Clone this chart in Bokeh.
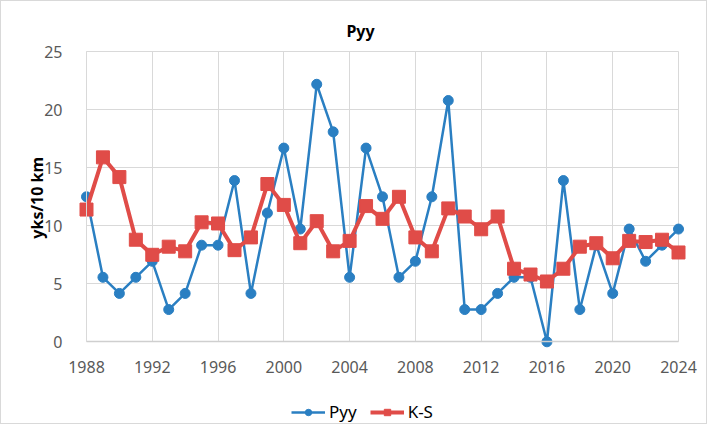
from bokeh.plotting import figure
from bokeh.models import Range1d, FixedTicker, Legend, LegendItem, Label
from bokeh.embed import file_html
from bokeh.resources import INLINE
import math

years = list(range(1988, 2025))
pyy = [12.5, 5.56, 4.17, 5.56, 6.94, 2.78, 4.17, 8.33, 8.33, 13.9,
       4.17, 11.1, 16.7, 9.72, 22.2, 18.1, 5.56, 16.7, 12.5, 5.56,
       6.94, 12.5, 20.8, 2.78, 2.78, 4.17, 5.56, 5.56, 0.0, 13.9,
       2.78, 8.33, 4.17, 9.72, 6.94, 8.33, 9.72]
ks = [11.4, 15.9, 14.2, 8.8, 7.5, 8.2, 7.8, 10.3, 10.2, 7.9,
      9.0, 13.6, 11.8, 8.5, 10.4, 7.8, 8.7, 11.7, 10.6, 12.5,
      9.0, 7.8, 11.5, 10.8, 9.7, 10.8, 6.3, 5.8, 5.2, 6.3,
      8.2, 8.5, 7.2, 8.7, 8.6, 8.8, 7.7]
x_ticks = list(range(1988, 2025, 4))
y_ticks = [0, 5, 10, 15, 20, 25]
title_text = "Pyy"
y_title = "yks/10 km"

BLUE = "#2A7FC2"
RED = "#E04C48"
FONT = "Noto Sans"

# layout: figure size and where the plot box should sit (pixels)
W, H = 707, 424
X0, X1 = 1988, 2024
Y0, Y1 = 0, 25
PX_LEFT, PX_RIGHT = 85.0, 677.0
PX_TOP, PX_BOTTOM = 50.3, 340.3
sx = (PX_RIGHT - PX_LEFT) / (X1 - X0)
sy = (PX_BOTTOM - PX_TOP) / (Y1 - Y0)
x_range = Range1d(X0 - PX_LEFT / sx, X1 + (W - PX_RIGHT) / sx)
y_range = Range1d(Y0 - (H - PX_BOTTOM) / sy, Y1 + PX_TOP / sy)

p = figure(width=W, height=H, output_backend="svg", toolbar_location=None,
           x_range=x_range, y_range=y_range, title=None,
           min_border=0, min_border_left=0, min_border_right=0,
           min_border_top=0, min_border_bottom=0)
p.styles = {"border": "1px solid #d9d9d9"}
p.outline_line_color = None

p.xaxis.fixed_location = Y0
p.yaxis.fixed_location = X0
p.xaxis.bounds = (X0, X1)
p.yaxis.bounds = (Y0, Y1)
p.xaxis.ticker = FixedTicker(ticks=x_ticks)
p.yaxis.ticker = FixedTicker(ticks=y_ticks)
for ax in (p.xaxis, p.yaxis):
    ax.major_tick_line_color = None
    ax.minor_tick_line_color = None
    ax.major_label_text_font = FONT
    ax.major_label_text_font_size = "16px"
    ax.major_label_text_color = "#595959"
p.xaxis.axis_line_color = "#cfcfcf"
p.xaxis.axis_line_width = 1.5
p.yaxis.axis_line_color = "#d9d9d9"
p.xaxis.major_label_standoff = 13
p.yaxis.major_label_standoff = 18

p.xgrid.ticker = FixedTicker(ticks=x_ticks)
p.ygrid.ticker = FixedTicker(ticks=y_ticks)
p.xgrid.bounds = (X0, X1)
p.ygrid.bounds = (Y0, Y1)
p.xgrid.cross_bounds = (Y0, Y1)
p.ygrid.cross_bounds = (X0, X1)
p.grid.grid_line_color = "#d9d9d9"
p.grid.grid_line_width = 1

l1 = p.line(years, pyy, line_color=BLUE, line_width=2.5)
m1 = p.scatter(years, pyy, marker="circle", size=10, fill_color=BLUE, line_color=BLUE)
l2 = p.line(years, ks, line_color=RED, line_width=4)
m2 = p.scatter(years, ks, marker="square", size=13, fill_color=RED, line_color=RED)

# title and y-axis title
p.add_layout(Label(x=(X0 + X1) / 2, y=Y1, x_offset=-22, y_offset=21,
                   text=title_text, text_font=FONT, text_font_style="bold",
                   text_font_size="16px", text_color="#000000",
                   text_align="center", text_baseline="middle"))
p.add_layout(Label(x=X0, y=(Y0 + Y1) / 2, x_offset=-50, y_offset=-1,
                   text=y_title, angle=math.pi / 2, text_font=FONT,
                   text_font_style="bold", text_font_size="16px",
                   text_color="#000000", text_align="center", text_baseline="middle"))

legend = Legend(items=[LegendItem(label="Pyy", renderers=[l1, m1]),
                       LegendItem(label="K-S", renderers=[l2, m2])],
                orientation="horizontal", location=(290, 2),
                label_text_font=FONT, label_text_font_size="17px",
                label_text_color="#000000", glyph_width=34, glyph_height=16,
                spacing=13, label_standoff=4, border_line_color=None,
                background_fill_alpha=0, margin=0, padding=0)
p.add_layout(legend, "center")

open("out.html", "w").write(file_html(p, INLINE))
